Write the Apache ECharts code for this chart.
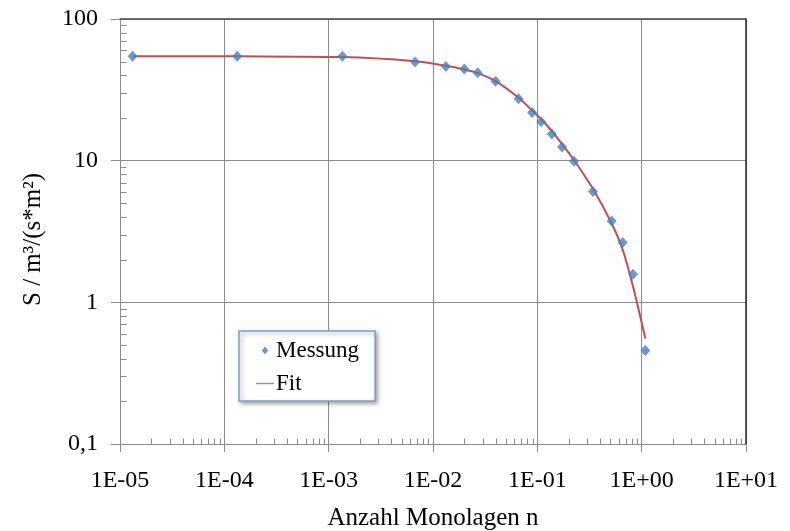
<!DOCTYPE html>
<html>
<head>
<meta charset="utf-8">
<script src="https://cdn.jsdelivr.net/npm/echarts@6/dist/echarts.min.js"></script>
<style>
  html, body { margin: 0; padding: 0; background: #ffffff; }
  #chart { width: 790px; height: 531px; }
</style>
</head>
<body>
<div id="chart"></div>
<script>
// Number of monolayers n (x) and pumping speed S (y)
const monolayers = [1.32e-5, 1.33e-4, 1.355e-3, 6.73e-3, 0.0133, 0.01995, 0.0268, 0.0398,
  0.0661, 0.0891, 0.1087, 0.1377, 0.1726, 0.2249, 0.342, 0.516, 0.658, 0.825, 1.085];
const measured = [54.5, 54.5, 54.5, 49.7, 46.3, 44.4, 41.8, 36.3,
  27.4, 21.9, 18.85, 15.4, 12.5, 9.89, 6.07, 3.75, 2.64, 1.576, 0.458];
const fitted = [54.6, 54.5, 53.9, 50.4, 46.8, 44.0, 41.5, 36.4,
  27.8, 22.6, 19.6, 16.2, 13.1, 10.1, 6.3, 3.6, 2.35, 1.3, 0.555];

const xTickLabels = ['1E-05', '1E-04', '1E-03', '1E-02', '1E-01', '1E+00', '1E+01'];
const yTickLabels = ['0,1', '1', '10', '100'];
const xTitle = 'Anzahl Monolagen n';
const yTitle = 'S / m\u00B3/(s*m\u00B2)';

const X_MIN = 1e-5, X_MAX = 10, Y_MIN = 0.1, Y_MAX = 100;
const FONT = 'Liberation Serif';
const GRID_COLOR = '#8c8c8c';

// minor tick positions at 2..9 of each decade
function minorValues(lo, hi) {
  const out = [];
  for (let d = lo; d < hi * 0.999; d *= 10) {
    for (let k = 2; k <= 9; k++) out.push(d * k);
  }
  return out;
}
const xMinor = minorValues(X_MIN, X_MAX).map(v => [v, Y_MIN]);
const yMinor = minorValues(Y_MIN, Y_MAX).map(v => [X_MIN, v]);

function tickRender(dx, dy) {
  return function (params, api) {
    const p = api.coord([api.value(0), api.value(1)]);
    return {
      type: 'line',
      shape: { x1: Math.round(p[0]) + 0.5, y1: Math.round(p[1]) + 0.5,
               x2: Math.round(p[0]) + 0.5 + dx, y2: Math.round(p[1]) + 0.5 + dy },
      style: { stroke: GRID_COLOR, lineWidth: 1 }
    };
  };
}

const chart = echarts.init(document.getElementById('chart'), null, { renderer: 'canvas' });
chart.setOption({
  backgroundColor: '#ffffff',
  animation: false,
  grid: { left: 120, right: 44, top: 19, bottom: 87, containLabel: false, outerBoundsMode: 'none' },
  legend: {
    data: [
      { name: 'Messung', icon: 'path://M4,0L8,5L4,10L0,5Z', itemStyle: { color: '#4a7ebb' } },
      { name: 'Fit', icon: 'path://M0,0H20V1.6H0Z', itemStyle: { color: '#d07a78' } }
    ],
    orient: 'vertical',
    left: 239,
    top: 331,
    padding: [8, 16, 6, 17],
    itemGap: 10,
    itemWidth: 18,
    itemHeight: 8,
    symbolKeepAspect: true,
    backgroundColor: '#ffffff',
    borderColor: '#7d9dcf',
    borderWidth: 1.5,
    shadowColor: 'rgba(0,0,0,0.35)',
    shadowBlur: 4,
    shadowOffsetX: 2,
    shadowOffsetY: 2,
    textStyle: { fontFamily: FONT, fontSize: 23, color: '#000', padding: [0, 0, 0, -3] }
  },
  xAxis: [{
    type: 'log', logBase: 10, min: X_MIN, max: X_MAX,
    name: xTitle, nameLocation: 'middle', nameGap: 62,
    nameTextStyle: { fontFamily: FONT, fontSize: 25, color: '#000' },
    axisLine: { show: true, lineStyle: { color: GRID_COLOR, width: 1 } },
    axisTick: { show: true, inside: false, length: 8, lineStyle: { color: GRID_COLOR } },
    axisLabel: {
      fontFamily: FONT, fontSize: 24, color: '#000', margin: 25,
      formatter: v => xTickLabels[Math.round(Math.log10(v)) + 5]
    },
    splitLine: { show: true, lineStyle: { color: GRID_COLOR, width: 1 } }
  }, {
    type: 'log', logBase: 10, min: X_MIN, max: X_MAX, position: 'top',
    axisLine: { show: true, onZero: false, lineStyle: { color: '#4a4a4a', width: 1.5 } },
    axisTick: { show: false }, axisLabel: { show: false }, splitLine: { show: false }
  }],
  yAxis: [{
    type: 'log', logBase: 10, min: Y_MIN, max: Y_MAX,
    name: yTitle, nameLocation: 'middle', nameGap: 74, nameRotate: 90,
    nameTextStyle: { fontFamily: FONT, fontSize: 25, color: '#000', padding: [0, 16, 0, 0] },
    axisLine: { show: true, lineStyle: { color: GRID_COLOR, width: 1 } },
    axisTick: { show: true, inside: false, length: 9, lineStyle: { color: GRID_COLOR } },
    axisLabel: {
      fontFamily: FONT, fontSize: 24, color: '#000', margin: 22,
      formatter: v => yTickLabels[Math.round(Math.log10(v)) + 1]
    },
    splitLine: { show: true, lineStyle: { color: GRID_COLOR, width: 1 } }
  }, {
    type: 'log', logBase: 10, min: Y_MIN, max: Y_MAX, position: 'right',
    axisLine: { show: true, onZero: false, lineStyle: { color: '#2a2a2a', width: 1.5 } },
    axisTick: { show: false }, axisLabel: { show: false }, splitLine: { show: false }
  }],
  series: [
    {
      name: 'xMinorTicks', type: 'custom', xAxisIndex: 0, yAxisIndex: 0,
      renderItem: tickRender(0, -6), data: xMinor, clip: false, silent: true, z: 1
    },
    {
      name: 'yMinorTicks', type: 'custom', xAxisIndex: 0, yAxisIndex: 0,
      renderItem: tickRender(6, 0), data: yMinor, clip: false, silent: true, z: 1
    },
    {
      name: 'Fit', type: 'line', xAxisIndex: 0, yAxisIndex: 0,
      data: monolayers.map((x, i) => [x, fitted[i]]),
      symbol: 'none', smooth: 0.3,
      lineStyle: { color: '#c0504d', width: 2 },
      itemStyle: { color: '#c0504d' },
      z: 3
    },
    {
      name: 'Messung', type: 'scatter', xAxisIndex: 0, yAxisIndex: 0,
      data: monolayers.map((x, i) => [x, measured[i]]),
      symbol: 'diamond', symbolSize: [10, 11],
      itemStyle: { color: '#4a7ebb' },
      z: 4
    }
  ]
});
</script>
</body>
</html>
